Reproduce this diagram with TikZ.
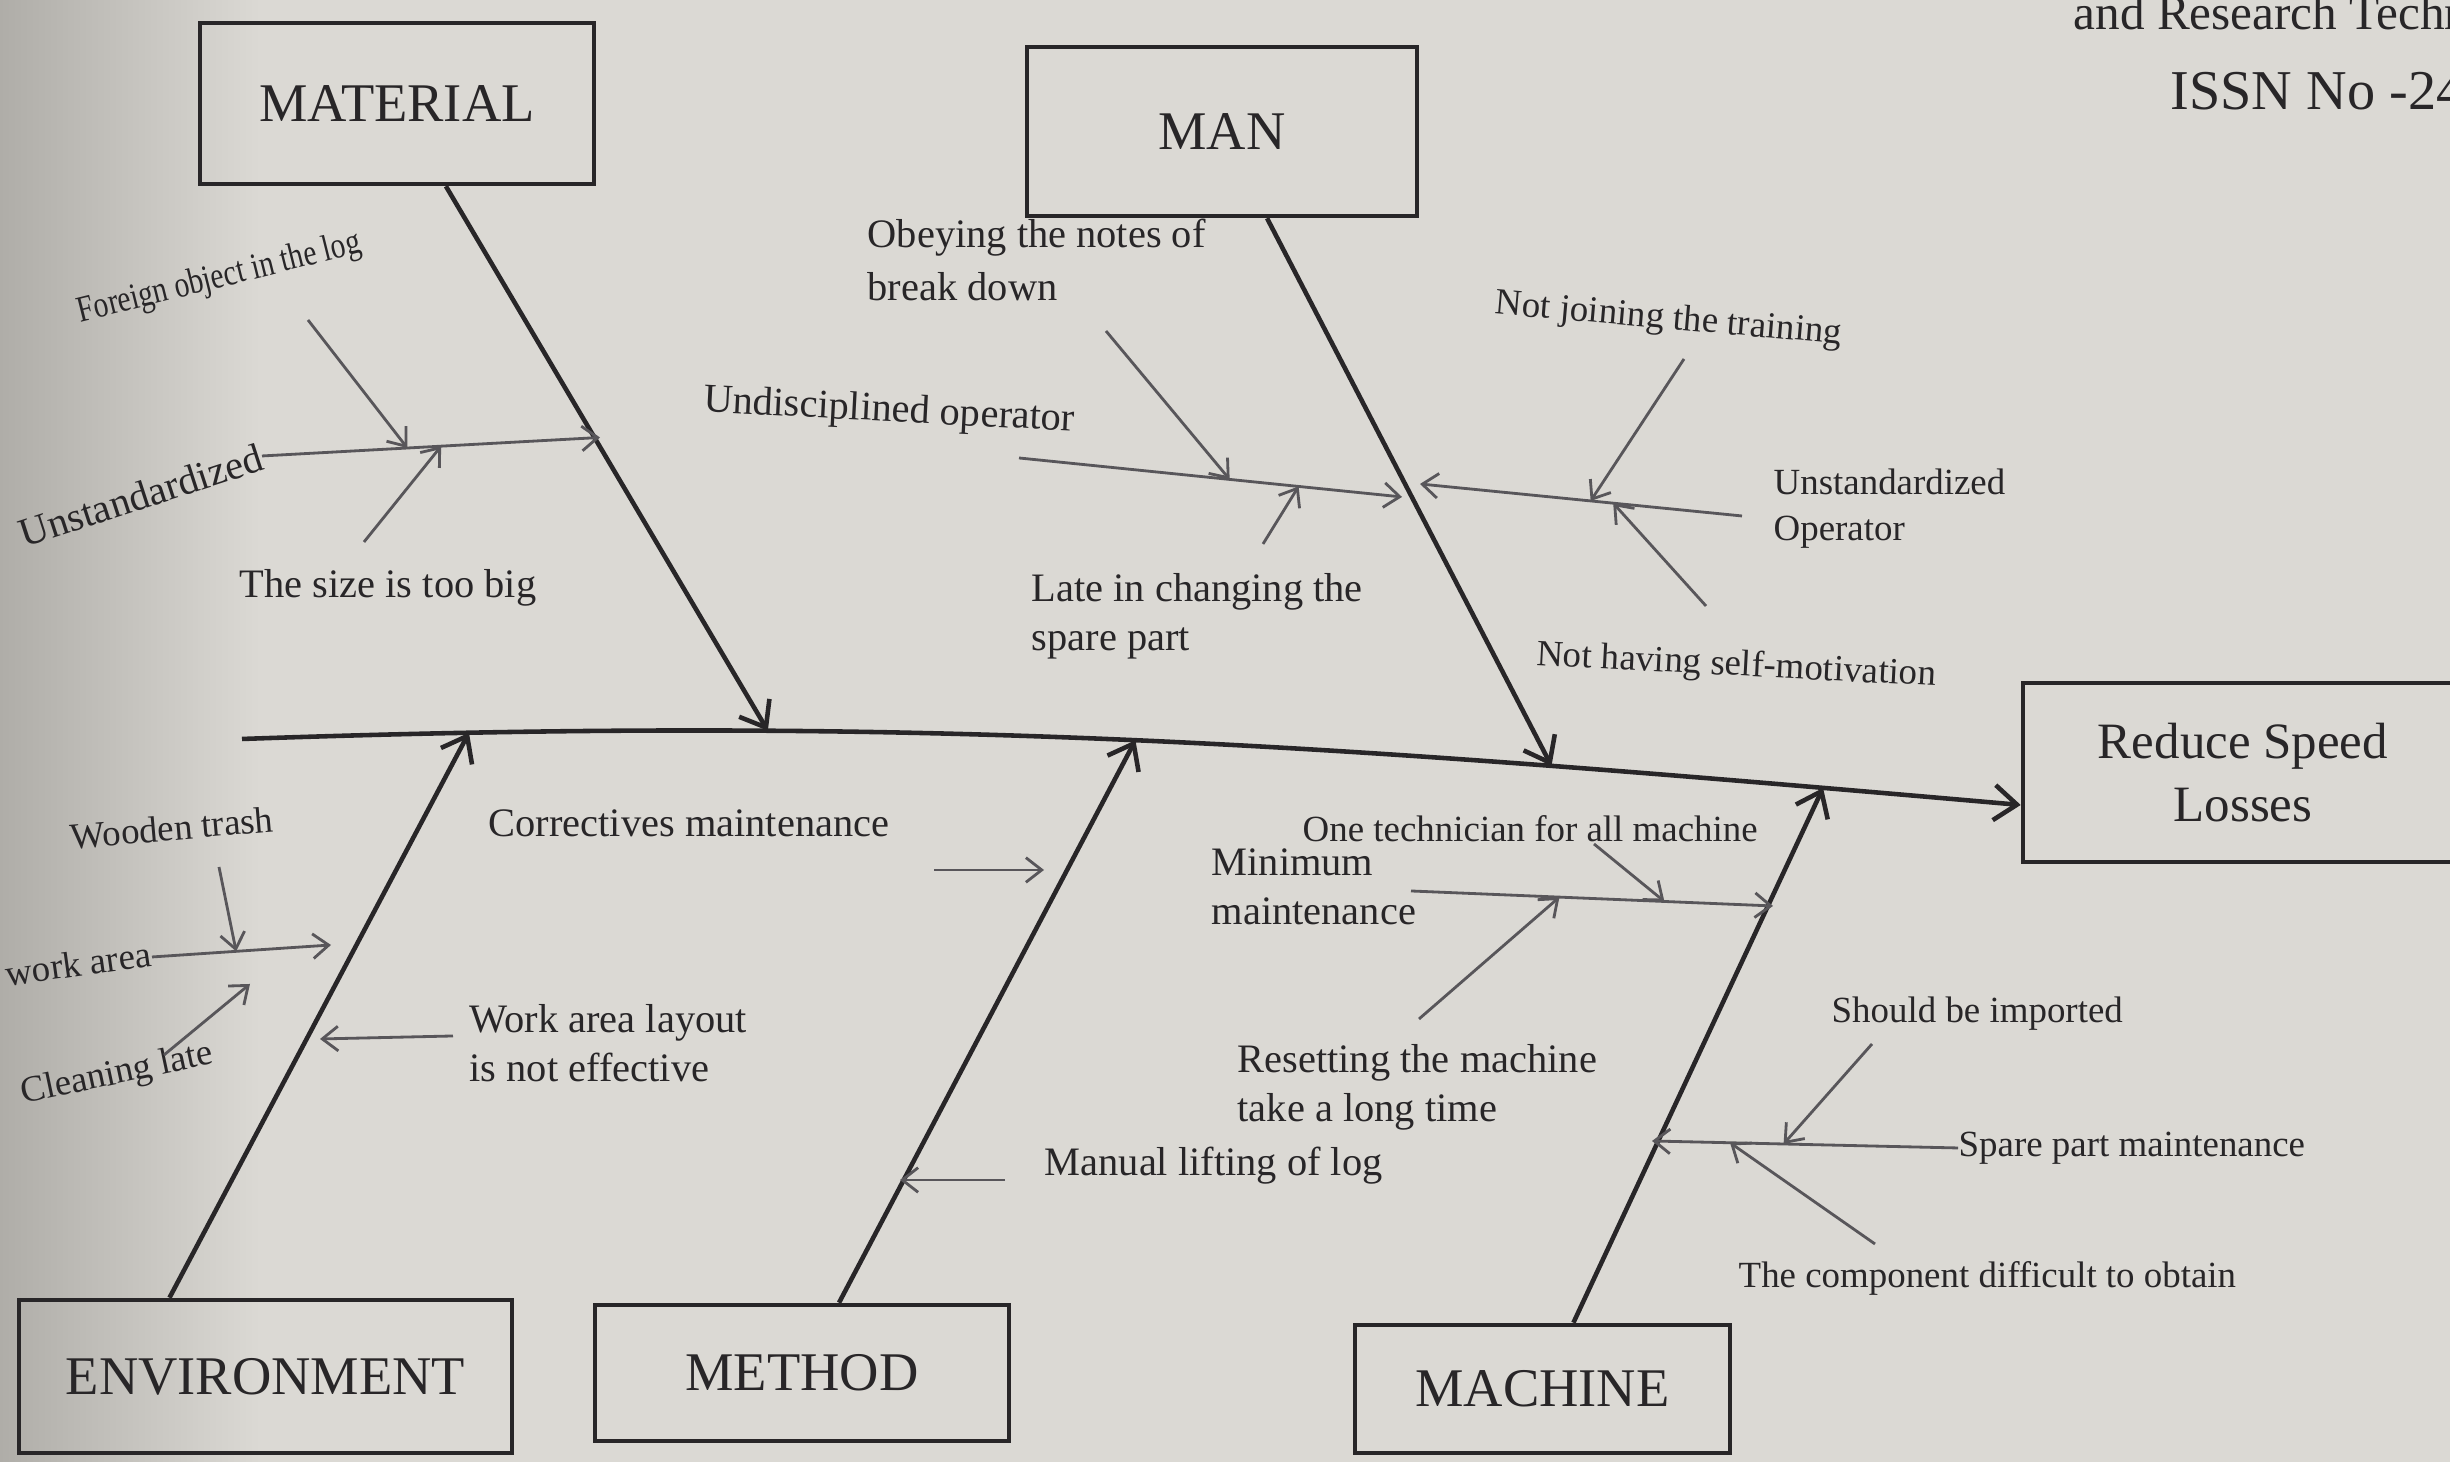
\documentclass[tikz,border=0pt]{standalone}
\usepackage{fontspec}
\setmainfont{Liberation Serif}
\usetikzlibrary{arrows.meta}
\definecolor{paper}{RGB}{219,217,212}
\definecolor{paperdark}{RGB}{175,173,168}
\definecolor{ink}{RGB}{40,38,40}
\definecolor{inkgray}{RGB}{88,86,90}

\begin{document}
\begin{tikzpicture}[
    box/.style={draw=ink, line width=1.3pt, inner sep=0pt, text=ink, font=\fontsize{15.5}{18}\selectfont},
    bone/.style={draw=ink, line width=1.3pt, -{Straight Barb[length=6.5pt,width=10pt]}},
    twig/.style={draw=inkgray, line width=0.8pt, -{Straight Barb[length=4.5pt,width=7pt]}},
    lbl/.style={text=ink, inner sep=0pt, align=left, font=\fontsize{11.5}{14}\selectfont},
    lbls/.style={lbl, font=\fontsize{10.5}{13}\selectfont}
]
\clip (0,0) rectangle (24.5,14.62);
\fill[paper] (0,0) rectangle (24.5,14.62);
\shade[left color=paperdark, right color=paper] (0,0) rectangle (2.6,14.62);

% header of the page
\node[text=ink, anchor=base west, inner sep=0pt, font=\fontsize{14}{16}\selectfont] (journal) at (20.73,14.32) {and Research Technology};
\node[text=ink, anchor=base west, inner sep=0pt, font=\fontsize{16}{18}\selectfont] (issn) at (21.70,13.52) {ISSN No -2456-2165};

% categories and effect
\node[box, minimum width=3.94cm, minimum height=1.61cm] (material) at (3.97,13.585) {MATERIAL};
\node[box, minimum width=3.90cm, minimum height=1.69cm] (man) at (12.22,13.305) {MAN};
\node[box, minimum width=4.93cm, minimum height=1.53cm] (environment) at (2.655,0.855) {ENVIRONMENT};
\node[box, minimum width=4.14cm, minimum height=1.36cm] (method) at (8.02,0.89) {METHOD};
\node[box, minimum width=3.75cm, minimum height=1.28cm] (machine) at (15.425,0.73) {MACHINE};
\node[box, minimum width=4.4cm, minimum height=1.79cm, align=center, font=\fontsize{14.5}{17.8}\selectfont] (effect) at (22.43,6.895) {Reduce Speed\\Losses};

% spine
\coordinate (tail) at (2.42,7.23);
\coordinate (head) at ([yshift=-0.325cm]effect.west);
\draw[bone] (tail) to[out=2,in=175]
    coordinate[pos=0.114] (envtip)
    coordinate[pos=0.28] (mattip)
    coordinate[pos=0.502] (methtip)
    coordinate[pos=0.752] (mantip)
    coordinate[pos=0.901] (machtip) (head);

% main bones
\draw[bone] (material) -- (mattip);
\draw[bone] (man) -- (mantip);
\draw[bone] ([xshift=-0.96cm]environment.north) -- (envtip);
\draw[bone] (method) -- (methtip);
\draw[bone] (machine) -- (machtip);

% material
\node[lbl, rotate=18, anchor=east] (mat1) at (2.62,10.06) {Unstandardized};
\coordinate (mat1e) at (6.0,10.245);
\draw[twig] (mat1.east) -- coordinate[pos=0.43] (mat1a) coordinate[pos=0.53] (mat1b) (mat1e);
\node[lbls, rotate=14, xscale=0.8, anchor=base east] (mat2) at (3.63,12.1) {Foreign object in the log};
\coordinate (mat2s) at (3.08,11.42);
\draw[twig] (mat2s) -- (mat1a);
\node[lbl] (mat3) at (3.88,8.74) {The size is too big};
\coordinate (mat3s) at (3.64,9.20);
\draw[twig] (mat3s) -- (mat1b);

% man
\node[lbl, anchor=west, font=\fontsize{11.5}{15}\selectfont] (man1) at (8.67,12.02) {Obeying the notes of\\break down};
\node[lbl, anchor=west, rotate=-3] (man2) at (7.03,10.60) {Undisciplined operator};
\coordinate (man2s) at (10.19,10.04);
\coordinate (man2e) at (14.02,9.65);
\draw[twig] (man2s) -- coordinate[pos=0.55] (man2a) coordinate[pos=0.73] (man2b) (man2e);
\coordinate (man1s) at (11.06,11.31);
\draw[twig] (man1s) -- (man2a);
\node[lbl, anchor=west] (man3) at (10.31,8.46) {Late in changing the\\spare part};
\coordinate (man3s) at (12.63,9.18);
\draw[twig] (man3s) -- (man2b);
\node[lbls, anchor=west, rotate=-5] (man4) at (14.95,11.57) {Not joining the training};
\node[lbls, anchor=west] (man5) at (17.73,9.53) {Unstandardized\\Operator};
\coordinate (man5s) at (17.42,9.46);
\coordinate (man5e) at (14.2,9.78);
\draw[twig] (man5s) -- coordinate[pos=0.40] (man5a) coordinate[pos=0.47] (man5b) (man5e);
\coordinate (man4s) at (16.84,11.03);
\draw[twig] (man4s) -- (man5b);
\node[lbls, anchor=west, rotate=-3] (man6) at (15.36,8.06) {Not having self-motivation};
\coordinate (man6s) at (17.06,8.56);
\draw[twig] (man6s) -- (man5a);

% environment
\node[lbls, rotate=5] (env1) at (1.72,6.34) {Wooden trash};
\node[lbls, rotate=8, anchor=east] (env2) at (1.52,5.05) {Dirty work area};
\coordinate (env2e) at (3.31,5.17);
\draw[twig] (env2.east) -- coordinate[pos=0.47] (env2a) (env2e);
\coordinate (env1s) at (2.19,5.95);
\draw[twig] (env1s) -- (env2a);
\node[lbls, rotate=12] (env3) at (1.17,3.87) {Cleaning late};
\coordinate (env3s) at (1.64,4.07);
\coordinate (env3e) at (2.50,4.78);
\draw[twig] (env3s) -- (env3e);
\node[lbl, anchor=west] (env4) at (4.69,4.19) {Work area layout\\is not effective};
\coordinate (env4s) at (4.53,4.26);
\coordinate (env4e) at (3.20,4.23);
\draw[twig] (env4s) -- (env4e);

% method
\node[lbl, anchor=west] (met1) at (4.88,6.39) {Correctives maintenance};
\coordinate (met1s) at (9.34,5.92);
\coordinate (met1e) at (10.44,5.92);
\draw[twig] (met1s) -- (met1e);
\node[lbl, anchor=west] (met2) at (10.44,2.96) {Manual lifting of log};
\coordinate (met2s) at (10.05,2.82);
\coordinate (met2e) at (9.0,2.82);
\draw[twig] (met2s) -- (met2e);

% machine
\node[lbls, anchor=west] (mac1) at (13.02,6.33) {One technician for all machine};
\node[lbl, anchor=west] (mac2) at (12.11,5.75) {Minimum\\maintenance};
\coordinate (mac2s) at (14.11,5.71);
\coordinate (mac2e) at (17.73,5.56);
\draw[twig] (mac2s) -- coordinate[pos=0.41] (mac2a) coordinate[pos=0.70] (mac2b) (mac2e);
\coordinate (mac1s) at (15.94,6.18);
\draw[twig] (mac1s) -- (mac2b);
\node[lbl, anchor=west] (mac3) at (12.37,3.75) {Resetting the machine\\take a long time};
\coordinate (mac3s) at (14.19,4.43);
\draw[twig] (mac3s) -- (mac2a);
\node[lbls, anchor=west] (mac4) at (19.58,3.14) {Spare part maintenance};
\coordinate (mac4e) at (16.52,3.21);
\draw[twig] (mac4.west) -- coordinate[pos=0.57] (mac4a) coordinate[pos=0.745] (mac4b) (mac4e);
\node[lbls, anchor=west] (mac5) at (18.31,4.48) {Should be imported};
\coordinate (mac5s) at (18.72,4.18);
\draw[twig] (mac5s) -- (mac4a);
\node[lbls, anchor=west] (mac6) at (17.38,1.84) {The component difficult to obtain};
\coordinate (mac6s) at (18.75,2.18);
\draw[twig] (mac6s) -- (mac4b);
\end{tikzpicture}
\end{document}
